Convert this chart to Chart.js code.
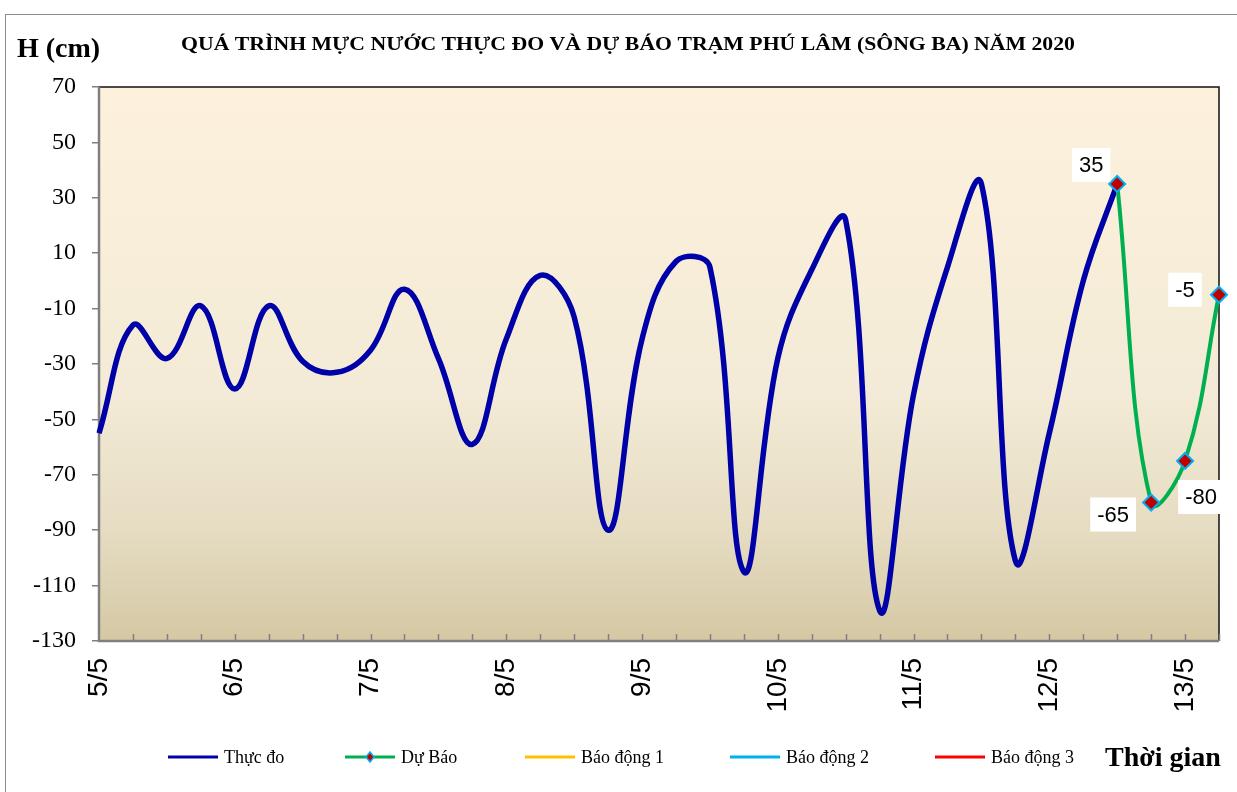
<!DOCTYPE html>
<html>
<head>
<meta charset="utf-8">
<title>Mực nước Phú Lâm</title>
<script src="https://cdn.jsdelivr.net/npm/chart.js@4.4.1/dist/chart.umd.min.js"></script>
<style>
    html, body { margin: 0; padding: 0; background: #ffffff; }
    #wrap { position: relative; width: 1237px; height: 792px; }
</style>
</head>
<body>
<div id="wrap"><canvas id="mucNuocChart" width="1237" height="792"></canvas></div>
<script>
// Ngày và giờ (bước 6 giờ), từ 5/5 00h tới 13/5 06h
const dayLabels = ['5/5', '6/5', '7/5', '8/5', '9/5', '10/5', '11/5', '12/5', '13/5'];
const hourLabels = ['00h', '06h', '12h', '18h'];
const pointCount = 34;

// Mực nước thực đo (cm), mỗi 6 giờ từ 5/5 00h
const thucDo = [-55, -16, -28, -9, -39, -9, -29, -33, -25, -3, -28, -59, -21, 2, -13, -90,
                -21, 7, 5, -105, -28, 4, 22, -119, -41, 5, 35, -101, -55, 0, 35];

// Mực nước dự báo (cm), bắt đầu tại điểm thứ 30 (12/5 12h)
const duBaoStart = 30;
const duBao = [35, -80, -65, -5];
const duBaoText = ['35', '-65', '-80', '-5'];

// Trục tung
const yMin = -130;
const yMax = 70;
const yStep = 20;

const seriesNames = ['Thực đo', 'Dự Báo', 'Báo động 1', 'Báo động 2', 'Báo động 3'];
const seriesColors = ['#0000A8', '#00B050', '#FFC000', '#00B0F0', '#FF0000'];

const chartTitle = 'QUÁ TRÌNH MỰC NƯỚC THỰC ĐO VÀ DỰ BÁO TRẠM PHÚ LÂM (SÔNG BA) NĂM 2020';
const yTitle = 'H (cm)';
const xTitle = 'Thời gian';

// build category labels "5/5 00h", "5/5 06h", ...
const categories = [];
dayLabels.forEach(d => hourLabels.forEach(h => categories.push(d + ' ' + h)));
categories.length = pointCount;

// background gradient, frame, inside tick marks
const plotDecor = {
    id: 'plotDecor',
    beforeDatasetsDraw(chart) {
        const { ctx, chartArea: a, scales } = chart;
        ctx.save();
        const g = ctx.createLinearGradient(0, a.top, 0, a.bottom);
        g.addColorStop(0, '#FDF1DC');
        g.addColorStop(0.55, '#F3EBD7');
        g.addColorStop(0.8, '#E6DCC2');
        g.addColorStop(1, '#D4C8A4');
        ctx.fillStyle = g;
        ctx.fillRect(a.left, a.top, a.right - a.left, a.bottom - a.top);

        // top and right edges
        ctx.strokeStyle = '#111111';
        ctx.lineWidth = 1.5;
        ctx.beginPath();
        ctx.moveTo(a.left, a.top);
        ctx.lineTo(a.right, a.top);
        ctx.lineTo(a.right, a.bottom);
        ctx.stroke();

        // left and bottom axes
        ctx.strokeStyle = '#808080';
        ctx.lineWidth = 2.5;
        ctx.beginPath();
        ctx.moveTo(a.left, a.top);
        ctx.lineTo(a.left, a.bottom);
        ctx.lineTo(a.right, a.bottom);
        ctx.stroke();

        // x tick marks pointing up into the plot
        ctx.lineWidth = 1.5;
        ctx.beginPath();
        for (let i = 1; i < pointCount; i++) {
            const x = Math.round(scales.x.getPixelForValue(i)) + 0.5;
            ctx.moveTo(x, a.bottom);
            ctx.lineTo(x, a.bottom - 7);
        }
        ctx.stroke();
        ctx.restore();
    }
};

// labels next to the forecast points (white boxes)
const forecastLabels = {
    id: 'forecastLabels',
    afterDatasetsDraw(chart) {
        const { ctx } = chart;
        const meta = chart.getDatasetMeta(1);
        const offsets = [[-26, -19], [-38, 12], [16, 36], [-34, -5]];
        ctx.save();
        ctx.font = '22px "Liberation Sans", Arial, sans-serif';
        ctx.textAlign = 'center';
        ctx.textBaseline = 'middle';
        duBaoText.forEach((txt, k) => {
            const pt = meta.data[duBaoStart + k];
            const cx = pt.x + offsets[k][0];
            const cy = pt.y + offsets[k][1];
            const w = ctx.measureText(txt).width + 14;
            ctx.fillStyle = '#ffffff';
            ctx.fillRect(cx - w / 2, cy - 17, w, 34);
            ctx.fillStyle = '#000000';
            ctx.fillText(txt, cx, cy + 1);
        });
        ctx.restore();
    }
};

// title, axis captions, legend, outer frame
const chartText = {
    id: 'chartText',
    afterDraw(chart) {
        const { ctx } = chart;
        ctx.save();
        ctx.strokeStyle = '#8C8C8C';
        ctx.lineWidth = 1;
        ctx.strokeRect(5.5, 14.5, 1400, 900);

        ctx.fillStyle = '#000000';
        ctx.textBaseline = 'alphabetic';
        ctx.font = 'bold 18px "Liberation Serif", "Times New Roman", serif';
        const tw = ctx.measureText(chartTitle).width;
        ctx.save();
        ctx.translate(181, 50);
        ctx.scale(894 / tw, 1);
        ctx.textAlign = 'left';
        ctx.fillText(chartTitle, 0, 0);
        ctx.restore();

        ctx.textAlign = 'left';
        ctx.font = 'bold 28px "Liberation Serif", "Times New Roman", serif';
        ctx.fillText(yTitle, 17, 57);

        ctx.font = 'bold 28px "Liberation Serif", "Times New Roman", serif';
        ctx.fillText(xTitle, 1105, 766);

        // legend
        const starts = [168, 345, 525, 730, 935];
        const ly = 757;
        ctx.font = '18px "Liberation Serif", "Times New Roman", serif';
        ctx.textBaseline = 'middle';
        seriesNames.forEach((name, i) => {
            const x0 = starts[i];
            ctx.strokeStyle = seriesColors[i];
            ctx.lineWidth = 3;
            ctx.beginPath();
            ctx.moveTo(x0, ly);
            ctx.lineTo(x0 + 50, ly);
            ctx.stroke();
            if (i === 1) {
                ctx.fillStyle = '#C00000';
                ctx.strokeStyle = '#00B0F0';
                ctx.lineWidth = 1.5;
                ctx.beginPath();
                ctx.moveTo(x0 + 25, ly - 5);
                ctx.lineTo(x0 + 29, ly);
                ctx.lineTo(x0 + 25, ly + 5);
                ctx.lineTo(x0 + 21, ly);
                ctx.closePath();
                ctx.fill();
                ctx.stroke();
            }
            ctx.fillStyle = '#000000';
            ctx.fillText(name, x0 + 56, ly + 1);
        });
        ctx.restore();
    }
};

const ctx = document.getElementById('mucNuocChart').getContext('2d');

const chart = new Chart(ctx, {
    type: 'line',
    data: {
        labels: categories,
        datasets: [
            {
                label: seriesNames[0],
                data: thucDo,
                borderColor: seriesColors[0],
                borderWidth: 5.5,
                pointRadius: 0,
                tension: 0.4,
                fill: false,
                order: 2
            },
            {
                label: seriesNames[1],
                data: new Array(duBaoStart).fill(null).concat(duBao),
                borderColor: seriesColors[1],
                borderWidth: 4,
                pointStyle: 'rectRot',
                pointRadius: 8,
                pointBackgroundColor: '#C00000',
                pointBorderColor: '#00B0F0',
                pointBorderWidth: 2,
                tension: 0.4,
                fill: false,
                clip: false,
                order: 1
            },
            { label: seriesNames[2], data: [], borderColor: seriesColors[2], order: 3 },
            { label: seriesNames[3], data: [], borderColor: seriesColors[3], order: 4 },
            { label: seriesNames[4], data: [], borderColor: seriesColors[4], order: 5 }
        ]
    },
    options: {
        responsive: false,
        animation: false,
        layout: { padding: { top: 87, right: 18, bottom: 0, left: 0 } },
        scales: {
            x: {
                type: 'category',
                offset: false,
                grid: { display: false, drawTicks: false },
                border: { display: false },
                ticks: {
                    autoSkip: false,
                    minRotation: 90,
                    maxRotation: 90,
                    padding: 17,
                    color: '#000000',
                    font: { family: '"Liberation Sans", Arial, sans-serif', size: 28 },
                    callback: function(value, index) {
                        return index % 4 === 0 ? dayLabels[index / 4] : '';
                    }
                },
                afterFit: function(scale) {
                    scale.height = 151;
                    scale.paddingLeft = 0;
                    scale.paddingRight = 0;
                }
            },
            y: {
                min: yMin,
                max: yMax,
                grid: { drawOnChartArea: false, drawTicks: true, tickLength: 7, color: '#808080', lineWidth: 1.5 },
                border: { display: false },
                ticks: {
                    stepSize: yStep,
                    padding: 16,
                    color: '#000000',
                    font: { family: '"Liberation Serif", "Times New Roman", serif', size: 24 }
                },
                afterFit: function(scale) {
                    scale.width = 99;
                    scale.paddingTop = 0;
                    scale.paddingBottom = 0;
                }
            }
        },
        plugins: {
            legend: { display: false },
            title: { display: false },
            tooltip: { enabled: false }
        }
    },
    plugins: [plotDecor, forecastLabels, chartText]
});
</script>
</body>
</html>
